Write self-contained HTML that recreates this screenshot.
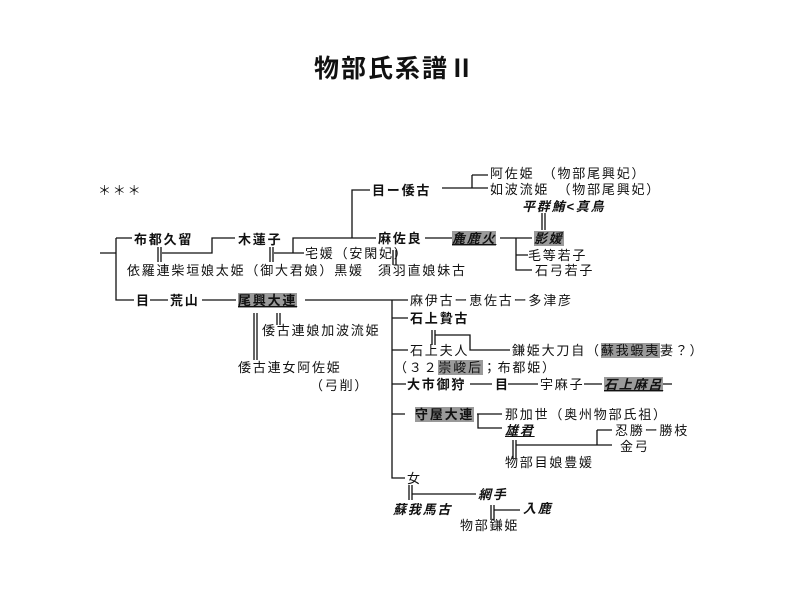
<!DOCTYPE html>
<html><head><meta charset="utf-8"><style>
body{margin:0;width:800px;height:600px;background:#fff;position:relative;overflow:hidden;font-family:"Liberation Sans","Noto Sans CJK JP",sans-serif;color:#111}
.t{position:absolute;font-size:13px;line-height:15px;white-space:nowrap;letter-spacing:1.8px}
.b{font-weight:bold}
.i{font-style:italic;font-weight:bold}
.g{background:#9a9a9a}
.u{text-decoration:underline}
svg{position:absolute;left:0;top:0}
</style></head><body>
<svg width="800" height="600" stroke="#111" stroke-width="1.3" fill="none">
<path d="M100 253H116M116 238V300H134M116 238H132"/>
<path d="M158 247V262M161 247V262M162 253H212V238H235"/>
<path d="M270 247V262M273 247V262M274 253H304M293 253V238H376M352 238V190H370"/>
<path d="M442 188H474M472 175V188M472 175H488M472 188H488"/>
<path d="M542 213V230M545 213V230"/>
<path d="M425 238H452M500 238H532M516 238V270H532M516 255H528"/>
<path d="M393 250V265M396 250V265"/>
<path d="M305 300H392M392 300V478H405M392 300H408M392 318H408M392 350H408M392 384H406M392 414H405M150 300H168M202 300H236"/>
<path d="M254 313V360M257 313V360M277 313V325M280 313V325"/>
<path d="M432 330V345M435 330V345M435 335H470V350H510"/>
<path d="M470 384H492M508 384H538M584 384H602M662 384H672"/>
<path d="M477 414H502M478 414V428H502"/>
<path d="M513 440V458M516 440V458M516 445H597M597 430V445M597 430H612M597 445H612"/>
<path d="M409 485V500M412 485V500M412 494H476M491 505V520M494 505V520M494 510H520"/>
</svg>
<div class="t b" style="left:314px;top:55px;font-size:25px;line-height:28px;letter-spacing:2px">物部氏系譜Ⅱ</div>
<div class="t" style="left:98px;top:183px">＊＊＊</div>
<div class="t b" style="left:134px;top:232px">布都久留</div>
<div class="t" style="left:127px;top:263px">依羅連柴垣娘太姫（御大君娘）黒媛</div>
<div class="t b" style="left:238px;top:232px">木蓮子</div>
<div class="t" style="left:305px;top:246px">宅媛（安閑妃）</div>
<div class="t b" style="left:372px;top:183px">目ー倭古</div>
<div class="t" style="left:490px;top:166px">阿佐姫　（物部尾興妃）</div>
<div class="t" style="left:490px;top:182px">如波流姫　（物部尾興妃）</div>
<div class="t i" style="left:522px;top:199px">平群鮪&lt;真鳥</div>
<div class="t b" style="left:378px;top:231px">麻佐良</div>
<div class="t i g u" style="left:452px;top:231px">麁鹿火</div>
<div class="t i g" style="left:534px;top:231px">影媛</div>
<div class="t" style="left:528px;top:248px">毛等若子</div>
<div class="t" style="left:535px;top:263px">石弓若子</div>
<div class="t" style="left:378px;top:263px">須羽直娘妹古</div>
<div class="t b" style="left:136px;top:293px">目</div>
<div class="t b" style="left:170px;top:293px">荒山</div>
<div class="t b g u" style="left:238px;top:293px">尾興大連</div>
<div class="t" style="left:262px;top:323px">倭古連娘加波流姫</div>
<div class="t" style="left:238px;top:360px">倭古連女阿佐姫</div>
<div class="t" style="left:310px;top:378px">（弓削）</div>
<div class="t" style="left:410px;top:293px">麻伊古ー恵佐古ー多津彦</div>
<div class="t b" style="left:410px;top:311px">石上贄古</div>
<div class="t" style="left:410px;top:343px">石上夫人</div>
<div class="t" style="left:512px;top:343px">鎌姫大刀自（<span class="g">蘇我蝦夷</span>妻？）</div>
<div class="t" style="left:394px;top:360px">（３２<span class="g">崇峻后</span>；布都姫）</div>
<div class="t b" style="left:407px;top:377px">大市御狩</div>
<div class="t b" style="left:495px;top:377px">目</div>
<div class="t" style="left:540px;top:377px">宇麻子</div>
<div class="t i g u" style="left:604px;top:377px">石上麻呂</div>
<div class="t b g" style="left:415px;top:407px">守屋大連</div>
<div class="t" style="left:505px;top:407px">那加世（奥州物部氏祖）</div>
<div class="t i u" style="left:505px;top:423px">雄君</div>
<div class="t" style="left:615px;top:423px">忍勝ー勝枝</div>
<div class="t" style="left:620px;top:439px">金弓</div>
<div class="t" style="left:505px;top:455px">物部目娘豊媛</div>
<div class="t" style="left:407px;top:471px">女</div>
<div class="t i" style="left:478px;top:487px">網手</div>
<div class="t i" style="left:393px;top:502px">蘇我馬古</div>
<div class="t i" style="left:523px;top:501px">入鹿</div>
<div class="t" style="left:460px;top:518px">物部鎌姫</div>
</body></html>
